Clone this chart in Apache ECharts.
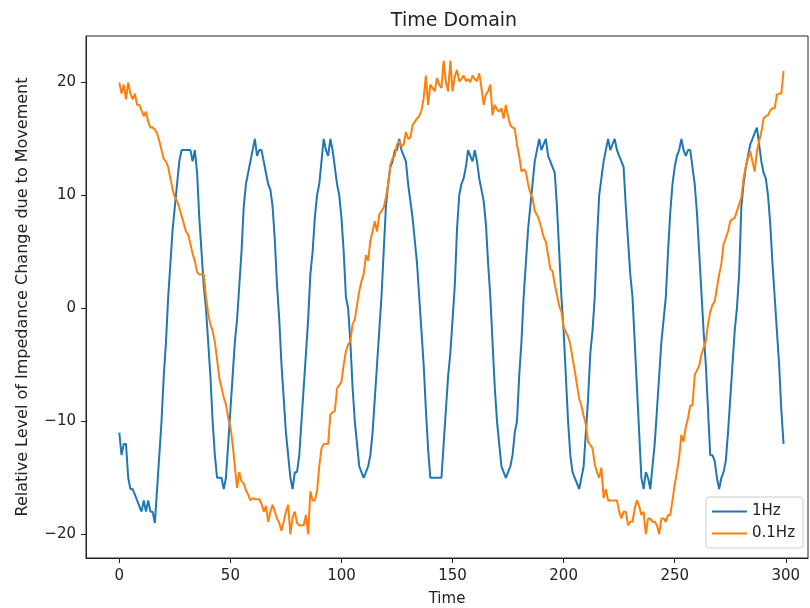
<!DOCTYPE html>
<html>
<head>
<meta charset="utf-8">
<title>Time Domain</title>
<script src="https://cdn.jsdelivr.net/npm/echarts@6/dist/echarts.min.js"></script>
<style>
  html, body { margin: 0; padding: 0; background: #fff; }
  #chart { width: 810px; height: 608px; }
</style>
</head>
<body>
<div id="chart"></div>
<script>
// sampled values, one per time step (0..299)
const hz1 = [
  -11, -13, -12, -12, -15, -16, -16, -16.5, -17, -17.5,
  -18, -17, -18, -17, -18, -18, -19, -16, -13, -10,
  -6, -3, 1, 4, 7, 9, 11, 13, 14, 14,
  14, 14, 14, 13, 14, 12, 8, 5, 2, 0,
  -3, -6, -10, -13, -15, -15, -15, -16, -15, -12,
  -9, -6, -3, -1, 2, 5, 9, 11, 12, 13,
  14, 15, 13.5, 14, 14, 13, 12, 11, 10.5, 9,
  6, 2, -1, -5, -8, -11, -13, -15, -16, -14.5,
  -14.5, -13, -10, -7, -4, -1, 3, 5, 8, 10,
  11, 13, 15, 14, 13.5, 15, 14, 12.5, 11, 10,
  8, 5, 1, 0, -3, -7, -10, -12, -14, -14.5,
  -15, -14.5, -14, -13, -11, -8, -5, -2, 1, 5,
  9, 11, 12.5, 13, 14, 14, 15, 14, 13.5, 13,
  11, 9.5, 8, 6, 4, 1, -2, -5, -9, -12.5,
  -15, -15, -15, -15, -15, -15, -12, -9, -6, -4,
  -1, 2, 7, 10, 11, 11.5, 12.5, 14, 13.5, 13,
  14, 13, 11.5, 10.5, 9.5, 7.5, 4, 1, -3, -7,
  -10, -12, -14, -14.5, -15, -14.5, -14, -13, -11, -10,
  -6, -3, 1, 4, 7, 9, 11, 13, 14, 15,
  14, 14.5, 15, 13.5, 13, 12.5, 12, 9, 5, 1,
  -2, -6, -10, -13, -14.5, -15, -15.5, -16, -15, -14,
  -11, -8, -4, -2, 1, 6, 10, 11.5, 13, 14,
  15, 14, 14.5, 15, 14, 13.5, 13, 12.5, 9, 6,
  3, 1, -3, -7, -11, -15, -16, -14.5, -15, -16,
  -14, -12, -9, -6, -3, -1, 1, 5, 8.5, 11,
  12.5, 13.5, 14, 15, 14, 13.5, 14, 14, 12.5, 11,
  8.5, 5, 1.5, -2, -5, -9, -13, -13, -13.5, -15,
  -16, -15, -14.5, -13.5, -11, -8, -5, -2, 0, 3,
  9, 11, 12.5, 13.5, 14.5, 15, 15.5, 16, 14.5, 13,
  12, 11.5, 10, 7.5, 4, 1, -2, -5, -9, -12
]

const hz01 = [
  20, 19, 19.8, 18.5, 20, 19, 18.5, 19, 18, 18,
  17.5, 17, 17.4, 16.5, 16, 16, 15.8, 15.5, 14.8, 14,
  13.2, 13, 12.5, 11.5, 10.5, 9.8, 9.5, 8.9, 8.2, 7.5,
  6.8, 6.5, 5.7, 4.8, 4.2, 3.2, 3, 3, 3, 1,
  -0.5, -1.4, -2, -3, -4.5, -6.2, -7, -7.9, -8.5, -9.7,
  -10.5, -12, -14, -15.9, -14.5, -15.3, -15.5, -16.1, -16.5, -17,
  -16.8, -16.9, -16.9, -16.9, -17.3, -18, -17.5, -18.9, -18, -17.4,
  -18, -18.6, -19, -19.7, -18.9, -18, -17.4, -20, -18.5, -18,
  -19, -19.2, -19.2, -19.2, -18.3, -20, -16.2, -17, -17, -16.2,
  -14, -12.4, -12, -12, -12, -9.4, -9.2, -9.1, -7.1, -6.8,
  -6.5, -5, -3.8, -3.2, -2.9, -1.4, -1, 0.3, 1.5, 2.4,
  3, 4.7, 4.2, 6, 6.8, 7.7, 6.8, 8.3, 8.6, 8.9,
  9.8, 11, 12.7, 13.3, 13.5, 14.5, 14.8, 14.3, 14.5, 15.6,
  15, 15.1, 16.2, 16.5, 16.8, 17, 17.5, 18.6, 20.6, 18,
  19.8, 19.5, 19.2, 20.4, 19.8, 19.5, 21.9, 20, 19.2, 21.9,
  19.2, 20.5, 21.1, 20.1, 20.3, 20.6, 20.1, 20.3, 20, 20.6,
  20.3, 20.1, 20.8, 19.5, 18, 18.9, 19.2, 19.8, 17.1, 18,
  17.6, 17.4, 17.7, 16.8, 18, 17, 16.2, 16, 15.9, 14.5,
  13.5, 12.1, 12.3, 12.1, 11, 10.2, 9.8, 8.6, 8.3, 7.8,
  7.1, 6.3, 5.9, 4.7, 3.5, 3.3, 2.1, 1.2, 0.2, -0.3,
  -1.7, -2.1, -2.5, -3.2, -4.4, -5.5, -6.8, -8, -8.6, -9.5,
  -10.3, -11.8, -12.1, -12.4, -13.8, -14.5, -15, -14.1, -16.8, -16,
  -17, -17, -17, -17, -17, -18, -18.6, -18, -18, -19.2,
  -18.9, -18.9, -17.7, -17, -17.5, -18.3, -18, -20, -18.6, -18.6,
  -18.9, -18.9, -19.2, -20, -18.6, -18.6, -18.9, -18.3, -18.3, -17,
  -15.6, -14.5, -13.2, -11.2, -11.8, -10.5, -9.7, -8.6, -8.6, -5.9,
  -5.5, -5.1, -4.1, -3.5, -2.9, -1.4, -0.3, 0.3, 0.6, 1.8,
  3, 3.9, 5.7, 6.2, 6.8, 7.7, 7.9, 8, 8.6, 9.2,
  9.8, 11.5, 12.5, 13.3, 13.9, 13, 12.1, 13.9, 14.8, 15.6,
  16.8, 17, 17.1, 17.5, 17.7, 17.7, 18.9, 19, 19, 21
]

const xTicks = [0, 50, 100, 150, 200, 250, 300]
const yTicks = [-20, -10, 0, 10, 20]

const font = 'DejaVu Sans'
const ink = '#222'

function pairs(values) {
  return values.map((v, i) => [i, v])
}

const chart = echarts.init(document.getElementById('chart'))

const option = {
  animation: false,
  backgroundColor: '#fff',
  textStyle: { fontFamily: font },
  title: {
    text: 'Time Domain',
    left: 449,
    top: 7,
    textAlign: 'center',
    textStyle: { fontFamily: font, fontSize: 19, fontWeight: 'normal', color: ink }
  },
  legend: {
    orient: 'vertical',
    left: 706,
    top: 497,
    icon: 'rect',
    itemWidth: 35,
    itemHeight: 2,
    itemGap: 7,
    padding: [7, 8, 7, 6],
    borderColor: '#ccc',
    borderWidth: 1,
    borderRadius: 3,
    backgroundColor: '#fff',
    textStyle: { fontFamily: font, fontSize: 15, color: ink },
    data: ['1Hz', '0.1Hz']
  },
  grid: {
    left: 86,
    right: 2,
    top: 36,
    bottom: 50,
    outerBoundsMode: 'none',
    show: true,
    borderColor: ink,
    borderWidth: 1,
    backgroundColor: 'transparent'
  },
  xAxis: {
    type: 'value',
    min: -15,
    max: 310,
    name: 'Time',
    nameLocation: 'middle',
    nameGap: 34,
    nameTextStyle: { fontFamily: font, fontSize: 15, color: ink },
    splitLine: { show: false },
    axisLine: { show: true, onZero: false, lineStyle: { color: ink, width: 1 } },
    axisTick: { show: true, inside: false, length: 5, customValues: xTicks, lineStyle: { color: ink } },
    axisLabel: { customValues: xTicks, margin: 11, fontSize: 15, color: ink, fontFamily: font }
  },
  yAxis: {
    type: 'value',
    min: -22.1,
    max: 24.1,
    name: 'Relative Level of Impedance Change due to Movement',
    nameLocation: 'middle',
    nameGap: 55,
    nameTextStyle: { fontFamily: font, fontSize: 16, color: ink },
    splitLine: { show: false },
    axisLine: { show: true, onZero: false, lineStyle: { color: ink, width: 1 } },
    axisTick: { show: true, inside: false, length: 5, customValues: yTicks, lineStyle: { color: ink } },
    axisLabel: {
      customValues: yTicks,
      margin: 10,
      fontSize: 15,
      color: ink,
      fontFamily: font,
      formatter: v => (v < 0 ? '\u2212' + Math.abs(v) : String(v))
    }
  },
  series: [
    {
      name: '1Hz',
      type: 'line',
      data: pairs(hz1),
      symbol: 'none',
      color: '#1f77b4',
      lineStyle: { width: 2 }
    },
    {
      name: '0.1Hz',
      type: 'line',
      data: pairs(hz01),
      symbol: 'none',
      color: '#ff7f0e',
      lineStyle: { width: 2 }
    }
  ]
}

chart.setOption(option)
</script>
</body>
</html>
